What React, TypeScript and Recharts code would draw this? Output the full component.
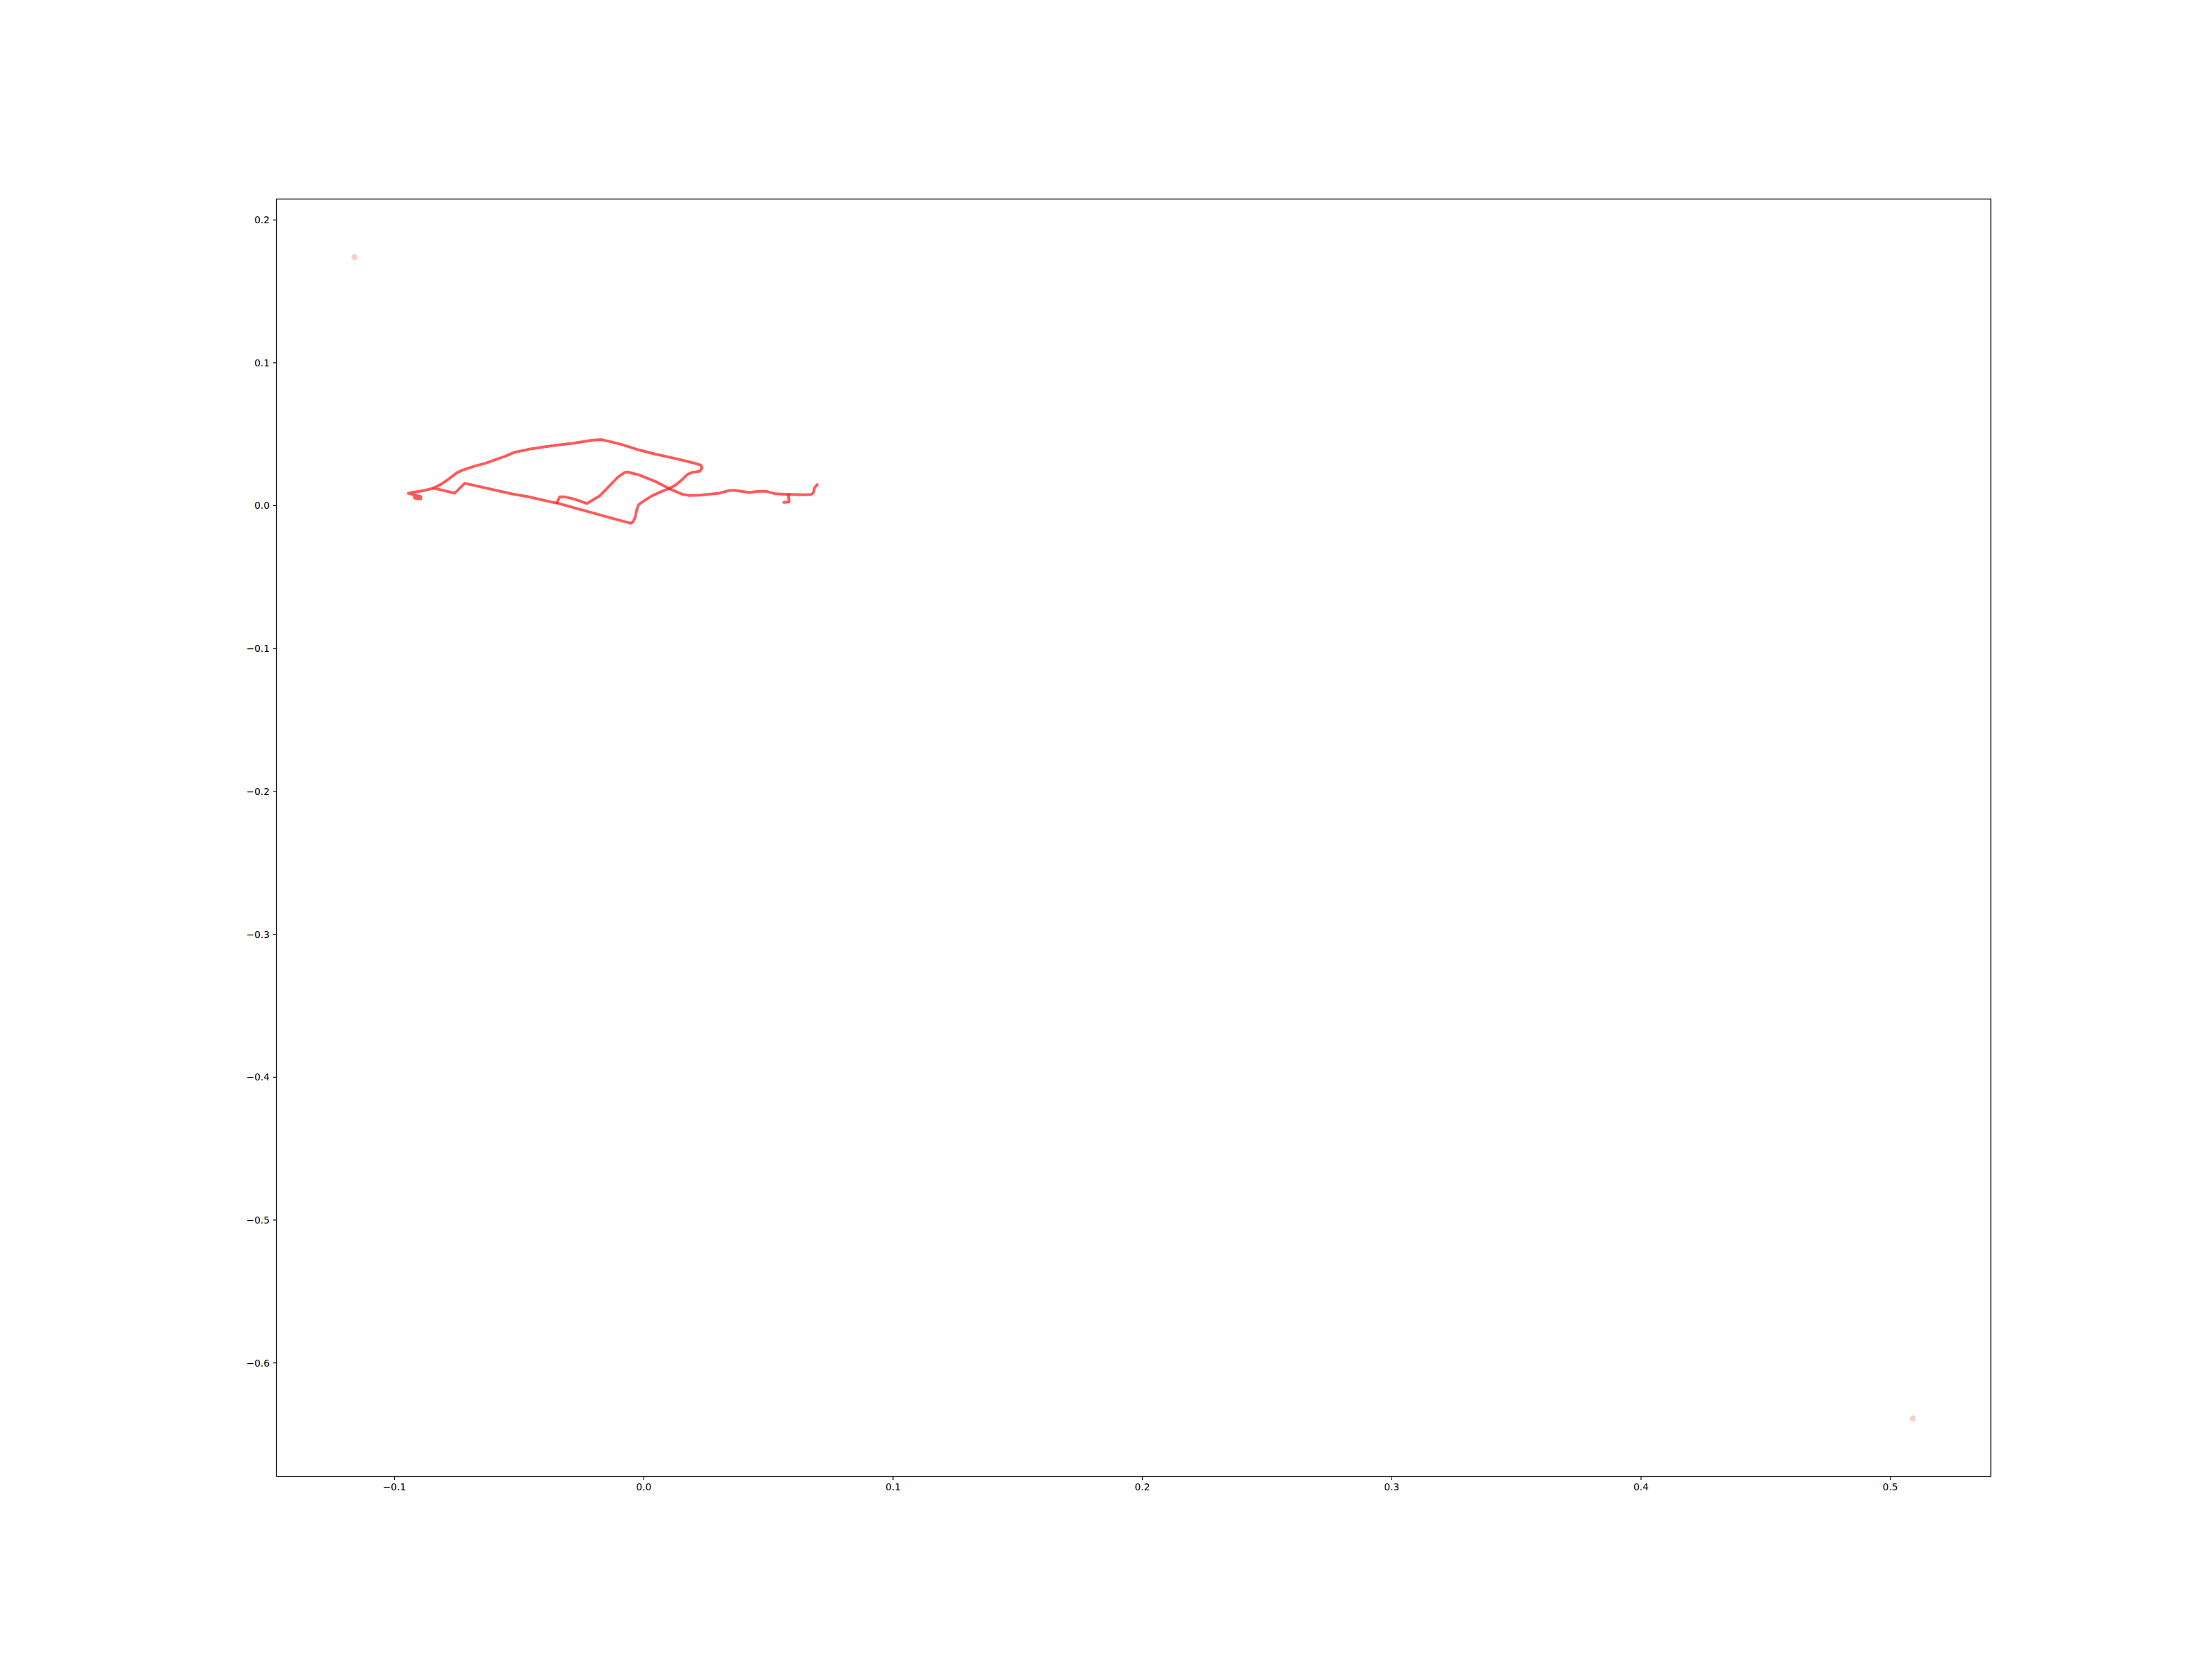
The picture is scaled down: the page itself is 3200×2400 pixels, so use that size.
import { ScatterChart, Scatter, XAxis, YAxis, ReferenceArea } from "recharts"

// plot limits (matplotlib autoscale with 5% margin)
const xDomain: [number, number] = [-0.1473, 0.5403]
const yDomain: [number, number] = [-0.6795, 0.2146]

const xTicks = [-0.1, 0, 0.1, 0.2, 0.3, 0.4, 0.5]
const yTicks = [-0.6, -0.5, -0.4, -0.3, -0.2, -0.1, 0, 0.1, 0.2]

// left end, small knot, up to the junction
const startPath: [number, number][] = [
  [-0.08935, 0.00634], [-0.08935, 0.0047], [-0.09185, 0.00518], [-0.09213, 0.00712],
  [-0.08935, 0.00634], [-0.09443, 0.00876], [-0.09166, 0.00954], [-0.08797, 0.0107],
  [-0.08425, 0.0123],
]

// big loop: lower branch, long straight, bottom vertex, crossing, right corner, top arc
const loopPath: [number, number][] = [
  [-0.08425, 0.0123], [-0.07577, 0.00876], [-0.07178, 0.01569], [-0.05284, 0.00828],
  [-0.04638, 0.00634], [-0.03712, 0.00261], [-0.03482, 0.00189], [-0.01126, -0.00949],
  [-0.00524, -0.01225], [-0.00432, -0.01143], [-0.00341, -0.00818], [-0.00274, -0.00257],
  [-0.00202, 0.00068], [-0.00017, 0.0031], [0.00352, 0.00712], [0.00724, 0.01002],
  [0.01017, 0.01196], [0.01278, 0.01438], [0.01555, 0.01845], [0.01738, 0.02164],
  [0.01924, 0.02329], [0.02248, 0.02406], [0.0234, 0.02648], [0.02293, 0.02842],
  [0.0211, 0.02939], [0.0137, 0.03263], [0.00446, 0.03617], [-0.00202, 0.03907],
  [-0.00848, 0.04265], [-0.01311, 0.04473], [-0.0168, 0.04619], [-0.02049, 0.04585],
  [-0.02789, 0.04377], [-0.03712, 0.04183], [-0.04638, 0.03941], [-0.05193, 0.03733],
  [-0.05561, 0.03457], [-0.05886, 0.03263], [-0.06346, 0.02973], [-0.06762, 0.02779],
  [-0.07272, 0.02488], [-0.07502, 0.02295], [-0.07779, 0.01922], [-0.08104, 0.0152],
  [-0.08425, 0.0123],
]

// middle branch out to the right end
const branchPath: [number, number][] = [
  [-0.03482, 0.00189], [-0.03371, 0.00615], [-0.03158, 0.00615], [-0.02789, 0.0047],
  [-0.02282, 0.0015], [-0.01772, 0.00683], [-0.01494, 0.01167], [-0.01034, 0.02004],
  [-0.00757, 0.02329], [-0.00663, 0.02358], [-0.00202, 0.02164], [0.00446, 0.01714],
  [0.01017, 0.01196], [0.01555, 0.00794], [0.01833, 0.00712], [0.02293, 0.00746],
  [0.03033, 0.00876], [0.03449, 0.0107], [0.03679, 0.0107], [0.04233, 0.00925],
  [0.04605, 0.01002], [0.04927, 0.01002], [0.05251, 0.00842], [0.05805, 0.00794],
  [0.06451, 0.0076], [0.06729, 0.00794], [0.06823, 0.00954], [0.06839, 0.0123],
  [0.06961, 0.01472],
]

const spurPath: [number, number][] = [
  [0.05805, 0.00794], [0.05833, 0.00261], [0.0562, 0.00228],
]

// two isolated points far from the track
const strayPoints: [number, number][] = [
  [-0.116, 0.174], [0.509, -0.6389],
]

const toRows = (pts: [number, number][]) => pts.map(([x, y]) => ({ x, y }))

const fmt = (v: number) => {
  const s = Math.abs(v).toFixed(1)
  return v < -1e-9 ? `\u2212${s}` : s
}

const tickStyle = { fill: "#000", fontSize: 13.9, fontFamily: "DejaVu Sans" }
const trackLine = { stroke: "#ff1a1a", strokeWidth: 4, strokeOpacity: 0.72, strokeLinejoin: "round" as const, strokeLinecap: "round" as const }
const noMarker = () => <g />

export default function App() {
  return (
    <div style={{ position: "absolute", left: 0, top: 0, width: 3200, height: 2400, background: "#fff" }}>
      <ScatterChart width={3200} height={2400} margin={{ top: 288, right: 320, bottom: 224, left: 340 }}>
        <XAxis
          type="number"
          dataKey="x"
          domain={xDomain}
          ticks={xTicks}
          allowDataOverflow
          tickFormatter={fmt}
          tick={tickStyle}
          tickSize={5}
          tickMargin={5}
          height={40}
          stroke="#000"
          axisLine={{ stroke: "#000", strokeWidth: 1.1 }}
          tickLine={{ stroke: "#000", strokeWidth: 1.1 }}
        />
        <YAxis
          type="number"
          dataKey="y"
          domain={yDomain}
          ticks={yTicks}
          allowDataOverflow
          tickFormatter={fmt}
          tick={tickStyle}
          tickSize={5}
          tickMargin={5}
          width={60}
          stroke="#000"
          axisLine={{ stroke: "#000", strokeWidth: 1.1 }}
          tickLine={{ stroke: "#000", strokeWidth: 1.1 }}
        />
        <ReferenceArea
          x1={xDomain[0]}
          x2={xDomain[1]}
          y1={yDomain[0]}
          y2={yDomain[1]}
          fill="none"
          stroke="#000"
          strokeWidth={1.1}
          ifOverflow="visible"
        />
        <Scatter data={toRows(startPath)} line={trackLine} lineType="joint" shape={noMarker} isAnimationActive={false} />
        <Scatter data={toRows(loopPath)} line={trackLine} lineType="joint" shape={noMarker} isAnimationActive={false} />
        <Scatter data={toRows(branchPath)} line={trackLine} lineType="joint" shape={noMarker} isAnimationActive={false} />
        <Scatter data={toRows(spurPath)} line={trackLine} lineType="joint" shape={noMarker} isAnimationActive={false} />
        <Scatter data={toRows(strayPoints)} fill="#ff0000" fillOpacity={0.2} shape="circle" r={1.5} isAnimationActive={false} />
      </ScatterChart>
    </div>
  )
}
